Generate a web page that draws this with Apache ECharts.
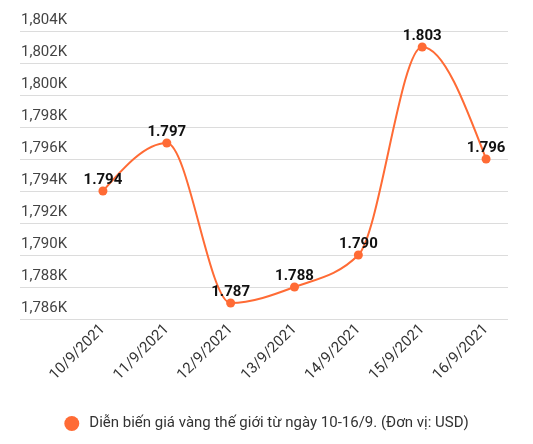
<!DOCTYPE html>
<html><head><meta charset="utf-8">
<script src="https://cdn.jsdelivr.net/npm/echarts@6/dist/echarts.min.js"></script>
<style>html,body{margin:0;padding:0;background:#fff}#c{width:533px;height:444px}</style>
</head><body><div id="c"></div>
<script>
var categories = ['10/9/2021','11/9/2021','12/9/2021','13/9/2021','14/9/2021','15/9/2021','16/9/2021'];
var values = [1794, 1797, 1787, 1788, 1790, 1803, 1796];
var seriesName = 'Diễn biến giá vàng thế giới từ ngày 10-16/9. (Đơn vị: USD)';
var yMin = 1786, yMax = 1804, yStep = 2;

function fmtAxis(v){ return v.toLocaleString('en-US') + 'K'; }
function fmtLabel(v){ return (v/1000).toFixed(3); }

var COLOR = '#ff6b35';
var FONT = 'Roboto';

// monotone-x cubic path (Fritsch–Carlson, as in d3.curveMonotoneX), computed in pixel space
function monotonePath(pts){
  var n = pts.length, t = new Array(n), s = [], h = [];
  for (var i = 0; i < n - 1; i++) {
    h[i] = pts[i+1][0] - pts[i][0];
    s[i] = (pts[i+1][1] - pts[i][1]) / h[i];
  }
  function sign(v){ return v < 0 ? -1 : 1; }
  for (var i = 1; i < n - 1; i++) {
    var s0 = s[i-1], s1 = s[i], h0 = h[i-1], h1 = h[i];
    var p = (s0 * h1 + s1 * h0) / (h0 + h1);
    t[i] = (sign(s0) + sign(s1)) * Math.min(Math.abs(s0), Math.abs(s1), 0.5 * Math.abs(p)) || 0;
  }
  t[0] = h.length ? (3 * s[0] - t[1]) / 2 : 0;
  t[n-1] = (3 * s[n-2] - t[n-2]) / 2;
  var d = 'M' + pts[0][0] + ',' + pts[0][1];
  for (var i = 0; i < n - 1; i++) {
    var dx = h[i] / 3;
    d += 'C' + (pts[i][0] + dx) + ',' + (pts[i][1] + dx * t[i]) + ' ' +
         (pts[i+1][0] - dx) + ',' + (pts[i+1][1] - dx * t[i+1]) + ' ' +
         pts[i+1][0] + ',' + pts[i+1][1];
  }
  return d;
}

var chart = echarts.init(document.getElementById('c'));
chart.setOption({
  animation: false,
  textStyle: {fontFamily: FONT},
  grid: [
    {left: 20, right: 25, top: 31, bottom: 125},
    {left: 71, right: 15, top: 31, bottom: 125}
  ],
  legend: {
    bottom: 8, left: 'center',
    icon: 'circle', itemWidth: 15, itemHeight: 15,
    textStyle: {fontFamily: FONT, fontSize: 15, color: '#333', padding: [0,0,0,5]},
    data: [seriesName]
  },
  xAxis: [
    {gridIndex: 0, type: 'value', show: false, min: 0, max: 1},
    {gridIndex: 1, type: 'category', data: categories, boundaryGap: true,
     axisLine: {show: false}, axisTick: {show: false},
     axisLabel: {rotate: 45, fontSize: 15, color: '#333', margin: 8, interval: 0, fontFamily: FONT}}
  ],
  yAxis: [
    {gridIndex: 0, type: 'value', min: yMin, max: yMax, interval: yStep,
     axisLine: {show: false}, axisTick: {show: false},
     splitLine: {lineStyle: {color: '#dcdcdc', width: 1}},
     axisLabel: {inside: true, margin: 1, verticalAlign: 'bottom', padding: [0,0,3,0],
                 fontSize: 15, color: '#444', formatter: fmtAxis, fontFamily: FONT}},
    {gridIndex: 1, type: 'value', min: yMin, max: yMax, interval: yStep, show: false,
     splitLine: {show: false}}
  ],
  series: [
    {
      name: 'curve', type: 'custom', xAxisIndex: 1, yAxisIndex: 1,
      data: values.map(function(v, i){ return [i, v]; }),
      silent: true, z: 1,
      renderItem: function(params, api){
        if (params.dataIndex !== 0) return null;
        var pts = values.map(function(v, i){ return api.coord([i, v]); });
        return {
          type: 'path',
          shape: {pathData: monotonePath(pts)},
          style: {fill: null, stroke: COLOR, lineWidth: 2}
        };
      }
    },
    {
      name: seriesName, type: 'line', xAxisIndex: 1, yAxisIndex: 1, z: 3,
      data: values,
      symbol: 'circle', symbolSize: 9,
      itemStyle: {color: COLOR},
      lineStyle: {color: COLOR, width: 2, opacity: 0},
      label: {show: true, position: 'top', distance: -1, fontSize: 15, fontWeight: 'bold',
              color: '#111', formatter: function(p){ return fmtLabel(p.value); }, fontFamily: FONT}
    }
  ]
});
</script></body></html>
